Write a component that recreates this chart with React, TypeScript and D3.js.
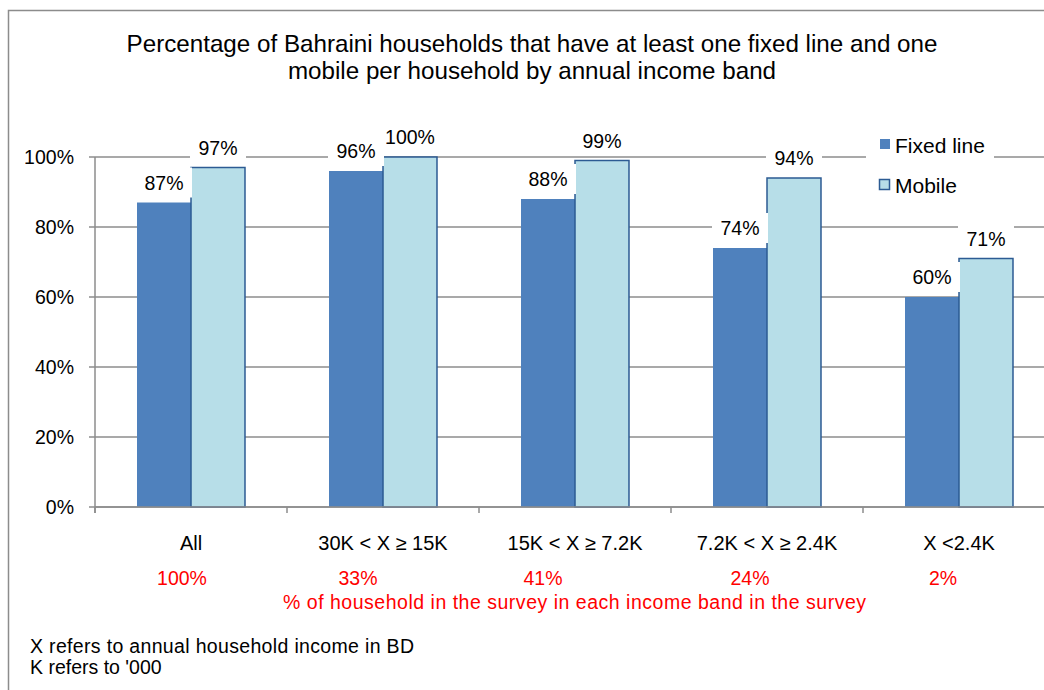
import React from "react";
import * as d3 from "d3";

const categories = ["All", "30K < X ≥ 15K", "15K < X ≥ 7.2K", "7.2K < X ≥ 2.4K", "X <2.4K"];
const fixedLine = [87, 96, 88, 74, 60];
const mobile = [97, 100, 99, 94, 71];
const shareLabels = ["100%", "33%", "41%", "24%", "2%"];
const shareOffsets = [-9, -25, -32, -17, -16];
const yTicks = [0, 20, 40, 60, 80, 100];
const seriesNames = ["Fixed line", "Mobile"];

const FONT = "'Liberation Sans', Arial, sans-serif";
const FIXED_COLOR = "#4F81BD";
const MOBILE_COLOR = "#B7DEE8";
const MOBILE_STROKE = "#2C5B93";
const GRID = "#8C8C8C";

export default function App() {
  const W = 1044;
  const H = 690;
  const left = 95;
  const right = 1055;
  const top = 157;
  const bottom = 507;

  const x = d3.scaleBand<string>().domain(categories).range([left, right]).paddingInner(0).paddingOuter(0);
  const inner = d3.scaleBand<string>().domain(seriesNames).range([0, x.bandwidth()]).paddingInner(0).paddingOuter(0.778);
  const y = d3.scaleLinear().domain([0, 100]).range([bottom, top]);

  const boundaries = categories.map((c) => x(c) as number).concat([right]);

  const labelBoxes: { cx: number; cy: number; text: string }[] = [];
  categories.forEach((c, i) => {
    const x0 = x(c) as number;
    labelBoxes.push({ cx: x0 + (inner("Fixed line") as number) + inner.bandwidth() / 2, cy: y(fixedLine[i]) - 20, text: `${fixedLine[i]}%` });
    labelBoxes.push({ cx: x0 + (inner("Mobile") as number) + inner.bandwidth() / 2, cy: y(mobile[i]) - 20, text: `${mobile[i]}%` });
  });

  return (
    <svg width={W} height={H} style={{ position: "absolute", left: 0, top: 0, background: "#fff" }} fontFamily={FONT}>
      <rect x={0} y={0} width={W} height={H} fill="#fff" />
      <rect x={8.5} y={10.5} width={W + 20} height={H + 20} fill="none" stroke="#8C8C8C" strokeWidth={1.5} />

      <text x={532} y={52} textAnchor="middle" fontSize={24.2} fill="#000">
        Percentage of Bahraini households that have at least one fixed line and one
      </text>
      <text x={532} y={79} textAnchor="middle" fontSize={24.2} fill="#000">
        mobile per household by annual income band
      </text>

      {yTicks.map((t) => (
        <g key={t}>
          <line x1={left} x2={right} y1={y(t)} y2={y(t)} stroke={GRID} strokeWidth={1.5} />
          <line x1={left - 6} x2={left} y1={y(t)} y2={y(t)} stroke={GRID} strokeWidth={1.5} />
          <text x={74} y={y(t)} dy="0.36em" textAnchor="end" fontSize={19.5} fill="#000">
            {t}%
          </text>
        </g>
      ))}
      <line x1={left} x2={left} y1={top} y2={bottom + 6} stroke={GRID} strokeWidth={1.5} />
      {boundaries.map((b, i) => (
        <line key={i} x1={b} x2={b} y1={bottom} y2={bottom + 6} stroke={GRID} strokeWidth={1.5} />
      ))}

      {categories.map((c, i) => {
        const x0 = x(c) as number;
        return (
          <g key={c}>
            <rect x={x0 + (inner("Fixed line") as number)} y={y(fixedLine[i])} width={inner.bandwidth()} height={bottom - y(fixedLine[i])} fill={FIXED_COLOR} />
            <rect x={x0 + (inner("Mobile") as number)} y={y(mobile[i])} width={inner.bandwidth()} height={bottom - y(mobile[i])} fill={MOBILE_COLOR} stroke={MOBILE_STROKE} strokeWidth={1.5} />
          </g>
        );
      })}
      <line x1={left} x2={right} y1={bottom} y2={bottom} stroke={GRID} strokeWidth={1.5} />

      {labelBoxes.map((l, i) => (
        <g key={i}>
          <rect x={l.cx - 28} y={l.cy - 15} width={56} height={30} fill="#fff" />
          <text x={l.cx} y={l.cy} dy="0.36em" textAnchor="middle" fontSize={19.5} fill="#000">
            {l.text}
          </text>
        </g>
      ))}

      <rect x={866} y={128} width={128} height={72} fill="#fff" />
      <rect x={880} y={139} width={10} height={10} fill={FIXED_COLOR} />
      <text x={895} y={145} dy="0.36em" fontSize={21} fill="#000">Fixed line</text>
      <rect x={879.5} y={179.5} width={10} height={10} fill={MOBILE_COLOR} stroke={MOBILE_STROKE} strokeWidth={1.5} />
      <text x={895} y={185} dy="0.36em" fontSize={21} fill="#000">Mobile</text>

      {categories.map((c) => (
        <text key={c} x={(x(c) as number) + x.bandwidth() / 2} y={543} dy="0.36em" textAnchor="middle" fontSize={20} fill="#000">
          {c}
        </text>
      ))}

      {categories.map((c, i) => (
        <text key={c} x={(x(c) as number) + x.bandwidth() / 2 + shareOffsets[i]} y={578} dy="0.36em" textAnchor="middle" fontSize={19.5} fill="#FF0000">
          {shareLabels[i]}
        </text>
      ))}
      <text x={283} y={602} dy="0.36em" fontSize={19.5} fill="#FF0000" textLength={583} lengthAdjust="spacing">
        % of household in the survey in each income band  in the survey
      </text>

      <text x={30} y={646} dy="0.36em" fontSize={19.5} fill="#000" textLength={384} lengthAdjust="spacing">
        X refers to annual household income in BD
      </text>
      <text x={30} y={667} dy="0.36em" fontSize={19.5} fill="#000">
        K refers to '000
      </text>
    </svg>
  );
}
